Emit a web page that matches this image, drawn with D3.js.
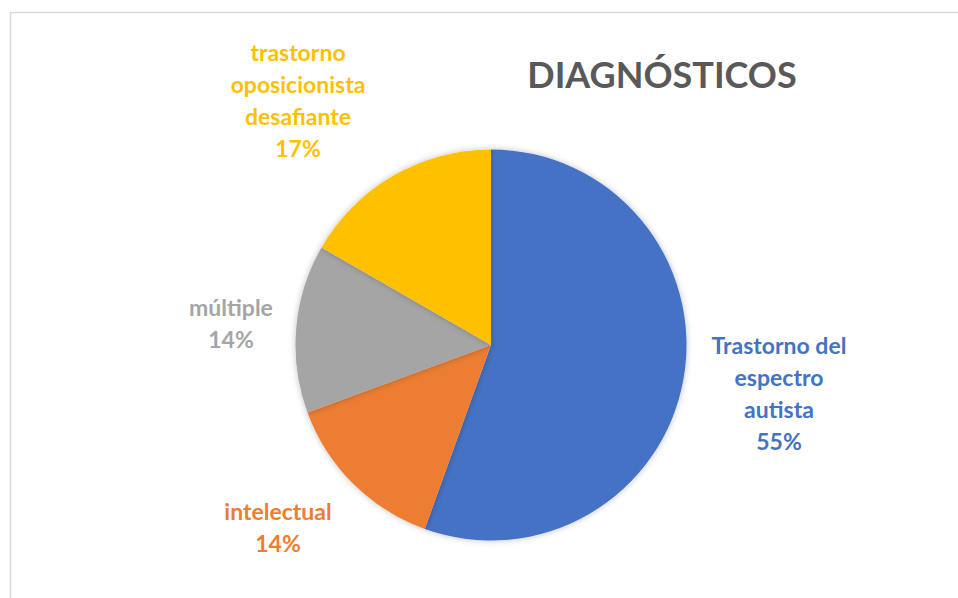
<!DOCTYPE html>
<html>
<head>
<meta charset="utf-8">
<script src="https://cdn.jsdelivr.net/npm/d3@7"></script>
<style>
    body { margin: 0; background: #fff; }
    svg text { font-family: Lato, "Open Sans", sans-serif; font-weight: bold; }
</style>
</head>
<body>
<div id="chart"></div>
<script>
// chart data
const categories = ["Trastorno del espectro autista", "intelectual", "múltiple", "trastorno oposicionista desafiante"];
// slice sizes as measured from the slice angles
const values = [55.5, 13.9, 13.9, 16.7];
// percentages as printed on the labels
const percentLabels = ["55%", "14%", "14%", "17%"];
const colors = ["#4472C4", "#ED7D31", "#A5A5A5", "#FFC000"];
// label lines, as wrapped in the original
const labelLines = [
    ["Trastorno del", "espectro", "autista"],
    ["intelectual"],
    ["múltiple"],
    ["trastorno", "oposicionista", "desafiante"]
];
const title = "DIAGNÓSTICOS";

const width = 958, height = 598;
const cx = 491, cy = 345, radius = 195.5;

let svg = d3.select("#chart").append("svg")
    .attr("width", width)
    .attr("height", height);

// chart area border (only top and left show in the crop)
svg.append("rect")
    .attr("x", 10.5)
    .attr("y", 12.5)
    .attr("width", 960)
    .attr("height", 600)
    .attr("fill", "none")
    .attr("stroke", "#d9d9d9")
    .attr("stroke-width", 1.5);

// soft shadow like Excel
let defs = svg.append("defs");
let filter = defs.append("filter").attr("id", "shadow")
    .attr("x", "-20%").attr("y", "-20%").attr("width", "140%").attr("height", "140%");
filter.append("feDropShadow")
    .attr("dx", 0).attr("dy", 0).attr("stdDeviation", 3)
    .attr("flood-color", "#000").attr("flood-opacity", 0.25);

svg.append("text")
    .attr("x", 662)
    .attr("y", 88)
    .attr("text-anchor", "middle")
    .style("font-size", "36px")
    .style("fill", "#595959")
    .text(title);

let data = categories.map((c, i) => ({name: c, value: values[i], pct: percentLabels[i], color: colors[i], lines: labelLines[i]}));

let pie = d3.pie().sort(null).value(d => d.value);
let arc = d3.arc().innerRadius(0).outerRadius(radius);

let g = svg.append("g").attr("transform", `translate(${cx}, ${cy})`);

g.selectAll("path")
    .data(pie(data))
    .enter().append("path")
    .attr("d", arc)
    .attr("fill", d => d.data.color)
    .attr("filter", "url(#shadow)");

// label positions (centre x, first baseline)
const labelPos = [[779, 354], [278, 520], [231, 316], [298, 61]];
const lineH = 32;

data.forEach((d, i) => {
    let t = svg.append("text")
        .attr("text-anchor", "middle")
        .style("font-size", "23px")
        .style("fill", d.color);
    let lines = d.lines.concat([d.pct]);
    lines.forEach((l, j) => {
        t.append("tspan")
            .attr("x", labelPos[i][0])
            .attr("y", labelPos[i][1] + j * lineH)
            .text(l);
    });
});
</script>
</body>
</html>
